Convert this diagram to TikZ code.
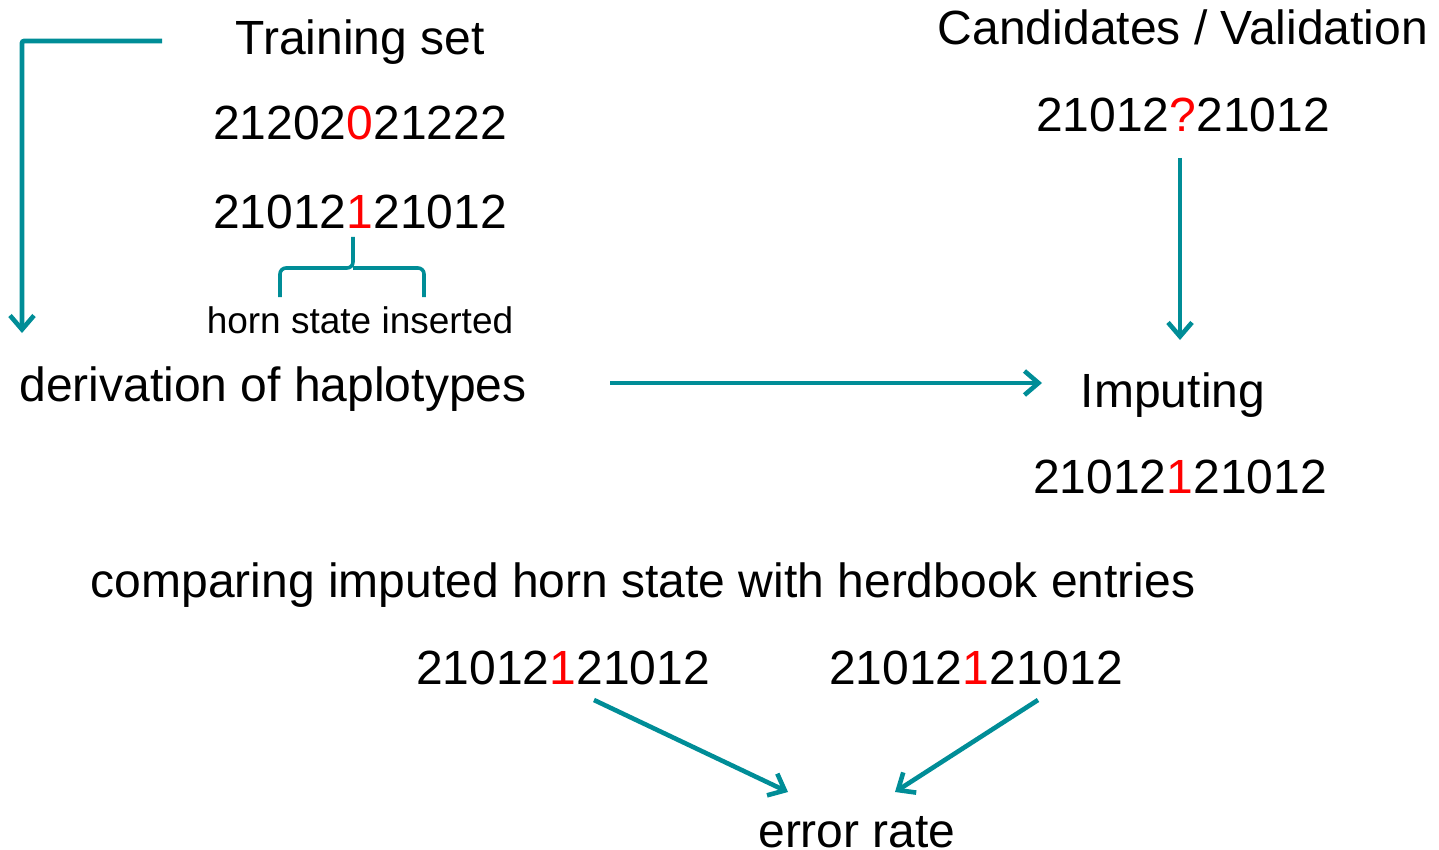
\documentclass[tikz,border=0pt]{standalone}
\usepackage{fontspec}
\setmainfont{Liberation Sans}
\usetikzlibrary{arrows.meta}
\definecolor{teal1}{RGB}{0,141,151}
\definecolor{hred}{RGB}{255,0,0}
\newcommand{\hr}[1]{\textcolor{hred}{#1}}
\begin{document}
\begin{tikzpicture}[x=0.5pt,y=-0.5pt,
  big/.style={font=\fontsize{24}{28}\selectfont, inner sep=0pt, text=black, anchor=base},
  small/.style={font=\fontsize{18.5}{22}\selectfont, inner sep=0pt, text=black, anchor=base},
  conn/.style={draw=teal1, line width=2.3pt, -{Straight Barb[length=7pt,width=12pt,line width=2.3pt]}},
  bracestyle/.style={draw=teal1, line width=1.8pt, rounded corners=3pt}]
\useasboundingbox (0,0) rectangle (1439,850);
% left column
\node[big] (train) at (360,55) {Training set};
\node[big] (seqA) at (360,140) {21202\hr{0}21222};
\node[big] (seqB) at (360,228) {21012\hr{1}21012};
\node[small] (horn) at (360,333) {horn state inserted};
\node[big] (deriv) at (273,401) {derivation of haplotypes};
% right column
\node[big] (cand) at (1183,45) {Candidates / Validation};
\node[big] (seqC) at (1183,132) {21012\hr{?}21012};
\node[big] (imp) at (1173,407) {Imputing};
\node[big] (seqD) at (1180,493) {21012\hr{1}21012};
% bottom
\node[big] (comp) at (643,597) {comparing imputed horn state with herdbook entries};
\node[big] (seqE) at (563,684) {21012\hr{1}21012};
\node[big] (seqF) at (976,684) {21012\hr{1}21012};
\node[big] (err) at (857,847) {error rate};
% coordinates
\coordinate (lstart) at (162,41);
\coordinate (lcorner) at (22,41);
\coordinate (ltip) at (22,333);
\coordinate (tip1) at (353,237);
% connectors
\draw[conn, rounded corners=1pt] (lstart) -- (lcorner) -- (ltip);
\draw[conn] (610,383) -- (1042,383);
\draw[conn] (1180,158) -- (1180,340);
\draw[conn] (594,700) -- (788,792);
\draw[conn] (1038,700) -- (895,792);
% brace
\draw[bracestyle] (280,297) -- (280,268) -- (353,268) -- (tip1);
\draw[bracestyle] (424,297) -- (424,268) -- (353,268);
\end{tikzpicture}
\end{document}
